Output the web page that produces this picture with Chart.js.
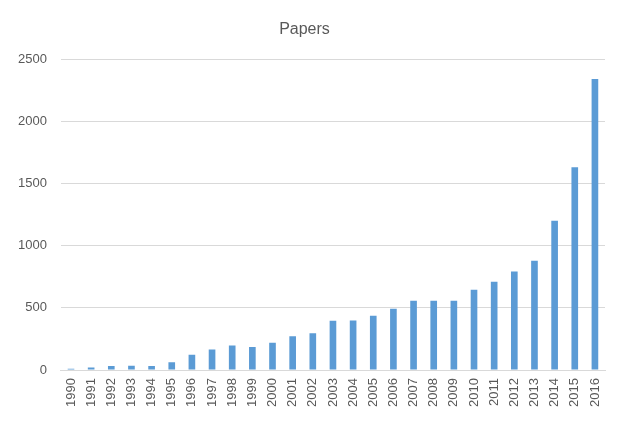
<!DOCTYPE html>
<html>
<head>
<meta charset="utf-8">
<script src="https://cdn.jsdelivr.net/npm/chart.js@4"></script>
<style>
  html, body { margin: 0; padding: 0; background: #fff; }
  #wrap { width: 621px; height: 423px; }
</style>
</head>
<body>
<div id="wrap"><canvas id="myChart" width="621" height="423"></canvas></div>
<script>
const anni = ["1990","1991","1992","1993","1994","1995","1996","1997","1998","1999","2000","2001","2002","2003","2004","2005","2006","2007","2008","2009","2010","2011","2012","2013","2014","2015","2016"];
const papers = [10, 21, 32, 35, 32, 62, 123, 166, 198, 185, 219, 273, 297, 396, 399, 437, 493, 557, 557, 557, 646, 710, 793, 879, 1200, 1632, 2340];
const yTicks = [0, 500, 1000, 1500, 2000, 2500];

const grigio = "#595959";
const font = "'Liberation Sans', Arial, sans-serif";

function generaGrafico() {
	const ctx = document.getElementById("myChart").getContext("2d");
	new Chart(ctx, {
		type: "bar",
		data: {
			labels: anni,
			datasets: [
				{
					label: "Papers",
					data: papers,
					backgroundColor: "#5B9BD5",
					barPercentage: 0.33,
					categoryPercentage: 1,
				},
			],
		},
		options: {
			responsive: false,
			animation: false,
			layout: { padding: { top: 20, right: 16, bottom: 8, left: 4 } },
			plugins: {
				legend: { display: false },
				tooltip: { enabled: false },
				title: {
					display: true,
					text: "Papers",
					color: grigio,
					font: { family: font, size: 16, weight: "normal" },
					padding: { top: 0, bottom: 20 },
				},
			},
			scales: {
				x: {
					grid: { display: false, drawTicks: false },
					border: { color: "#d9d9d9" },
					ticks: {
						color: grigio,
						font: { family: font, size: 13 },
						minRotation: 90,
						maxRotation: 90,
						padding: 8,
					},
				},
				y: {
					min: 0,
					max: 2500,
					afterBuildTicks: (scale) => {
						scale.ticks = yTicks.map((v) => ({ value: v }));
					},
					grid: { color: "#d9d9d9", drawTicks: false },
					border: { display: false },
					ticks: {
						color: grigio,
						font: { family: font, size: 13 },
						padding: 14,
						callback: (v) => String(v),
					},
				},
			},
		},
	});
}
generaGrafico();
</script>
</body>
</html>
